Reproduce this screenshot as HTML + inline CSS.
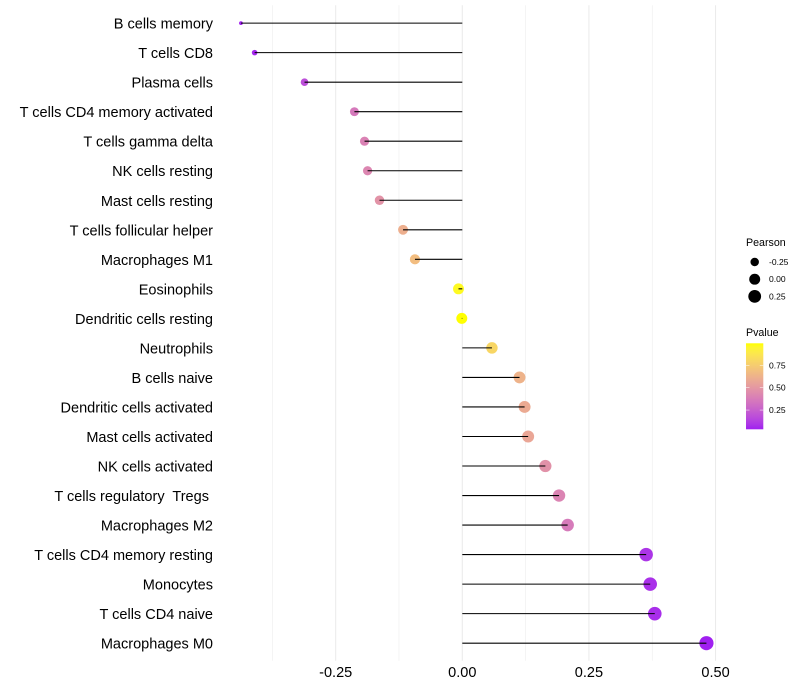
<!DOCTYPE html>
<html>
<head>
<meta charset="utf-8">
<title>Immune cell correlation lollipop chart</title>
<style>
html,body{margin:0;padding:0;background:#fff;width:800px;height:700px;overflow:hidden}
svg{display:block}
text{font-family:"Liberation Sans",sans-serif}
</style>
</head>
<body>
<svg id="chart" width="800" height="700" viewBox="0 0 800 700" xmlns="http://www.w3.org/2000/svg">
<defs><linearGradient id="pvalue-gradient" x1="0" y1="1" x2="0" y2="0"></linearGradient></defs>
<rect width="800" height="700" fill="#fff"></rect>
<g id="grid"></g>
<g id="points"></g>
<g id="segments"></g>
<g id="ylabels"></g>
<g id="xlabels"></g>
<g id="legend-size"></g>
<g id="legend-color"></g>
</svg>
<script>
const categories = ["B cells memory","T cells CD8","Plasma cells","T cells CD4 memory activated","T cells gamma delta","NK cells resting","Mast cells resting","T cells follicular helper","Macrophages M1","Eosinophils","Dendritic cells resting","Neutrophils","B cells naive","Dendritic cells activated","Mast cells activated","NK cells activated","T cells regulatory  Tregs ","Macrophages M2","T cells CD4 memory resting","Monocytes","T cells CD4 naive","Macrophages M0"];
const pearson = [-0.437,-0.41,-0.3115,-0.213,-0.193,-0.187,-0.1635,-0.117,-0.0935,-0.0075,-0.001,0.0585,0.113,0.123,0.13,0.164,0.191,0.208,0.363,0.371,0.38,0.482];
const pvalue = [0.04,0.055,0.18,0.36,0.4,0.42,0.48,0.61,0.68,0.97,0.996,0.8,0.63,0.59,0.57,0.47,0.41,0.37,0.09,0.08,0.07,0.035];
const xMajorTicks = [-0.25,0,0.25,0.5];
const xMinorTicks = [-0.375,-0.125,0.125,0.375];
const xTickLabels = ["-0.25","0.00","0.25","0.50"];
const sizeLegendValues = [-0.25,0,0.25];
const sizeLegendLabels = ["-0.25","0.00","0.25"];
const colorLegendValues = [0.25,0.5,0.75];
const colorLegendLabels = ["0.25","0.50","0.75"];

const NS = "http://www.w3.org/2000/svg";
const xScale = v => 462.3 + v * 506.5;
const yScale = i => 23.1 + i * 29.527;
const panelTop = 5.3, panelBottom = 660.8;
const pMin = Math.min(...pvalue), pMax = Math.max(...pvalue);
const rMinVal = Math.min(...pearson), rMaxVal = Math.max(...pearson);
const radius = v => 1.9 + 5.2 * Math.sqrt((v - rMinVal) / (rMaxVal - rMinVal));

function make(tag, attrs, parent, txt) {
  const el = document.createElementNS(NS, tag);
  for (const k in attrs) el.setAttribute(k, attrs[k]);
  if (txt !== undefined) el.textContent = txt;
  parent.appendChild(el);
  return el;
}
/* Lab interpolation between purple and yellow */
const labLow = [45.36, 78.75, -77.40];
const labHigh = [97.14, -21.56, 94.48];
function labToHex(L, a, b) {
  const fy = (L + 16) / 116, fx = fy + a / 500, fz = fy - b / 200;
  const inv = t => t > 6 / 29 ? t * t * t : 3 * (6 / 29) * (6 / 29) * (t - 4 / 29);
  const X = 0.95047 * inv(fx), Y = inv(fy), Z = 1.08883 * inv(fz);
  const lin = [3.2406 * X - 1.5372 * Y - 0.4986 * Z, -0.9689 * X + 1.8758 * Y + 0.0415 * Z, 0.0557 * X - 0.2040 * Y + 1.0570 * Z];
  const out = lin.map(c => {
    c = Math.max(0, Math.min(1, c));
    c = c <= 0.0031308 ? 12.92 * c : 1.055 * Math.pow(c, 1 / 2.4) - 0.055;
    return Math.round(c * 255);
  });
  return "rgb(" + out.join(",") + ")";
}
const colorAt = t => labToHex(labLow[0] + (labHigh[0] - labLow[0]) * t, labLow[1] + (labHigh[1] - labLow[1]) * t, labLow[2] + (labHigh[2] - labLow[2]) * t);
const colorScale = p => colorAt((p - pMin) / (pMax - pMin));

const gGrid = document.getElementById("grid");
xMinorTicks.forEach(v => {
  const el = make("line", {x1: xScale(v), x2: xScale(v), y1: panelTop, y2: panelBottom, stroke: "#ebebeb", "stroke-width": 0.55}, gGrid);
  
  
});
xMajorTicks.forEach(v => {
  const el = make("line", {x1: xScale(v), x2: xScale(v), y1: panelTop, y2: panelBottom, stroke: "#ebebeb", "stroke-width": 1.07}, gGrid);
  
  
});

const gPoints = document.getElementById("points");
const gSegments = document.getElementById("segments");
const gY = document.getElementById("ylabels");
categories.forEach((name, i) => {
  const y = yScale(i);
  const dot = make("circle", {cx: xScale(pearson[i]), cy: y, r: radius(pearson[i]), fill: colorScale(pvalue[i])}, gPoints);
  
  
  const seg = make("line", {x1: xScale(0), x2: xScale(pearson[i]), y1: y, y2: y, stroke: "#000", "stroke-width": 1.07}, gSegments);
  
  
  const label = make("text", {x: 213, y: y + 5.5, "text-anchor": "end", "font-size": 14.53, fill: "#000", style: "white-space:pre"}, gY, name);
  
  
});

const gX = document.getElementById("xlabels");
xMajorTicks.forEach((v, i) => {
  const label = make("text", {x: xScale(v), y: 677, "text-anchor": "middle", "font-size": 14.53, fill: "#000"}, gX, xTickLabels[i]);
  
  
});

const gS = document.getElementById("legend-size");
const sizeTitle = make("text", {x: 746, y: 246, "font-size": 10.67, fill: "#000"}, gS, "Pearson");


sizeLegendValues.forEach((v, i) => {
  const y = 262 + i * 17.2;
  const dot = make("circle", {cx: 754.7, cy: y, r: radius(v), fill: "#000"}, gS);
  
  
  const label = make("text", {x: 769, y: y + 3, "font-size": 8.53, fill: "#000"}, gS, sizeLegendLabels[i]);
  
  
});

const gC = document.getElementById("legend-color");
const grad = document.getElementById("pvalue-gradient");
for (let s = 0; s <= 20; s++) make("stop", {offset: s / 20, "stop-color": colorAt(s / 20)}, grad);
const barX = 746, barW = 17.3, barTop = 343.3, barBottom = 429.3;
const colorTitle = make("text", {x: 746, y: 336, "font-size": 10.67, fill: "#000"}, gC, "Pvalue");


const bar = make("rect", {x: barX, y: barTop, width: barW, height: barBottom - barTop, fill: "url(#pvalue-gradient)"}, gC);


const barY = p => barBottom - (p - pMin) / (pMax - pMin) * (barBottom - barTop);
colorLegendValues.forEach((p, i) => {
  const y = barY(p);
  [[barX, barX + 3.5], [barX + barW - 3.5, barX + barW]].forEach(ends => {
    const tick = make("line", {x1: ends[0], x2: ends[1], y1: y, y2: y, stroke: "#fff", "stroke-width": 0.5}, gC);
    
    
  });
  const label = make("text", {x: 769, y: y + 3, "font-size": 8.53, fill: "#000"}, gC, colorLegendLabels[i]);
  
  
});
</script>
</body>
</html>
